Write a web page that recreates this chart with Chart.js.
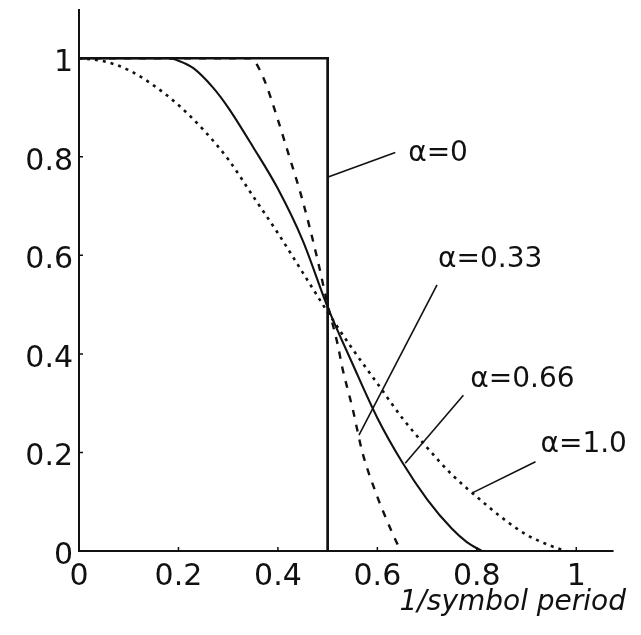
<!DOCTYPE html>
<html><head><meta charset="utf-8">
<script src="https://cdn.jsdelivr.net/npm/chart.js@4.4.0/dist/chart.umd.min.js"></script>
<style>html,body{margin:0;padding:0;background:#fff;}</style>
</head><body>
<canvas id="c" width="641" height="635"></canvas>
<script>
// ---- data ----
const xTicks = [0, 0.2, 0.4, 0.6, 0.8, 1];
const yTicks = [0, 0.2, 0.4, 0.6, 0.8, 1];
const xTickLabels = ['0', '0.2', '0.4', '0.6', '0.8', '1'];
const yTickLabels = ['0', '0.2', '0.4', '0.6', '0.8', '1'];
const xTitle = '1/symbol period';

const a0X = [0, 0.5, 0.5];
const a0Y = [1, 1, 0];

const a033X = [0, 0.345, 0.37, 0.4, 0.42, 0.45, 0.48, 0.5, 0.52, 0.53, 0.55, 0.57, 0.6, 0.62, 0.64, 0.648];
const a033Y = [1, 1, 0.962, 0.875, 0.81, 0.71, 0.59, 0.5, 0.42, 0.37, 0.29, 0.2, 0.11, 0.06, 0.015, 0];

const a066X = [0, 0.18, 0.2, 0.23, 0.27, 0.3, 0.35, 0.4, 0.45, 0.5, 0.55, 0.6, 0.65, 0.7, 0.75, 0.78, 0.81];
const a066Y = [1, 1, 0.995, 0.98, 0.94, 0.9, 0.82, 0.735, 0.63, 0.495, 0.38, 0.27, 0.18, 0.105, 0.045, 0.018, 0];

const a1X = [0, 0.05, 0.1, 0.15, 0.2, 0.25, 0.3, 0.35, 0.4, 0.45, 0.5, 0.55, 0.6, 0.65, 0.7, 0.75, 0.8, 0.85, 0.9, 0.95, 0.98];
const a1Y = [1, 0.994, 0.976, 0.945, 0.905, 0.855, 0.795, 0.72, 0.645, 0.565, 0.485, 0.41, 0.34, 0.27, 0.21, 0.155, 0.11, 0.068, 0.033, 0.01, 0];

const annoLabels = ['α=0', 'α=0.33', 'α=0.66', 'α=1.0'];
const annoTextX = [0.662, 0.722, 0.787, 0.928];
const annoTextY = [0.807, 0.592, 0.347, 0.215];
const leaderFromX = [0.636, 0.720, 0.773, 0.918];
const leaderFromY = [0.809, 0.540, 0.316, 0.181];
const leaderToX = [0.501, 0.563, 0.656, 0.791];
const leaderToY = [0.759, 0.235, 0.178, 0.118];

const xAxisEnd = 1.075;
const yAxisEnd = 1.1;
// ---------------------------------------

const pts = (xs, ys) => xs.map((x, i) => ({x: x, y: ys[i]}));
const INK = '#111';

const datasets = [
  {data: pts(a0X, a0Y), borderColor: INK, borderWidth: 2.7, tension: 0},
  {data: pts(a033X, a033Y), borderColor: INK, borderWidth: 2.4, borderDash: [7, 8], cubicInterpolationMode: 'monotone'},
  {data: pts(a066X, a066Y), borderColor: INK, borderWidth: 2.1, cubicInterpolationMode: 'monotone'},
  {data: pts(a1X, a1Y), borderColor: INK, borderWidth: 2.6, borderDash: [3, 5], cubicInterpolationMode: 'monotone'}
];
annoLabels.forEach((_, i) => {
  datasets.push({
    data: [{x: leaderFromX[i], y: leaderFromY[i]}, {x: leaderToX[i], y: leaderToY[i]}],
    borderColor: INK, borderWidth: 1.6, tension: 0
  });
});
datasets.forEach(d => { d.pointRadius = 0; d.fill = false; });

const axesPlugin = {
  id: 'axesPlugin',
  afterDatasetsDraw(chart) {
    const ctx = chart.ctx;
    const xs = chart.scales.x, ys = chart.scales.y;
    const x0 = xs.getPixelForValue(0), y0 = ys.getPixelForValue(0);
    ctx.save();
    ctx.strokeStyle = INK;
    ctx.lineWidth = 2;
    ctx.beginPath();
    ctx.moveTo(x0, ys.getPixelForValue(yAxisEnd));
    ctx.lineTo(x0, y0);
    ctx.lineTo(xs.getPixelForValue(xAxisEnd), y0);
    ctx.stroke();
    ctx.lineWidth = 1.5;
    ctx.beginPath();
    xTicks.forEach(v => { const p = xs.getPixelForValue(v); ctx.moveTo(p, y0); ctx.lineTo(p, y0 - 4); });
    yTicks.forEach(v => { const p = ys.getPixelForValue(v); ctx.moveTo(x0, p); ctx.lineTo(x0 + 4, p); });
    ctx.stroke();
    ctx.fillStyle = INK;
    ctx.font = '28px "DejaVu Sans"';
    ctx.textAlign = 'left';
    ctx.textBaseline = 'middle';
    annoLabels.forEach((t, i) => {
      ctx.fillText(t, xs.getPixelForValue(annoTextX[i]), ys.getPixelForValue(annoTextY[i]));
    });
    ctx.restore();
  }
};

new Chart(document.getElementById('c'), {
  type: 'line',
  data: {datasets: datasets},
  options: {
    responsive: false,
    animation: false,
    layout: {padding: {top: 9, right: 15, left: 0, bottom: 0}},
    plugins: {legend: {display: false}, tooltip: {enabled: false}},
    scales: {
      x: {
        type: 'linear', min: 0, max: 1.1,
        grid: {display: false, drawTicks: false},
        border: {display: false},
        afterBuildTicks: s => { s.ticks = xTicks.map(v => ({value: v})); },
        ticks: {
          callback: (v, i) => xTickLabels[i],
          font: {family: 'DejaVu Sans', size: 30}, color: INK,
          padding: 8, maxRotation: 0, autoSkip: false
        },
        title: {
          display: true, text: xTitle, align: 'end', color: INK,
          font: {family: 'DejaVu Sans', size: 28, style: 'italic'},
          padding: {top: 0, bottom: 15}
        },
        afterFit: s => { s.height = 84; s.paddingLeft = 0; s.paddingRight = 0; }
      },
      y: {
        type: 'linear', min: 0, max: 1.1,
        grid: {display: false, drawTicks: false},
        border: {display: false},
        afterBuildTicks: s => { s.ticks = yTicks.map(v => ({value: v})); },
        ticks: {
          callback: (v, i) => yTickLabels[i],
          font: {family: 'DejaVu Sans', size: 30}, color: INK,
          padding: 6, labelOffset: 5, autoSkip: false
        },
        afterFit: s => { s.width = 79; s.paddingTop = 0; s.paddingBottom = 0; }
      }
    }
  },
  plugins: [axesPlugin]
});
</script>
</body></html>
